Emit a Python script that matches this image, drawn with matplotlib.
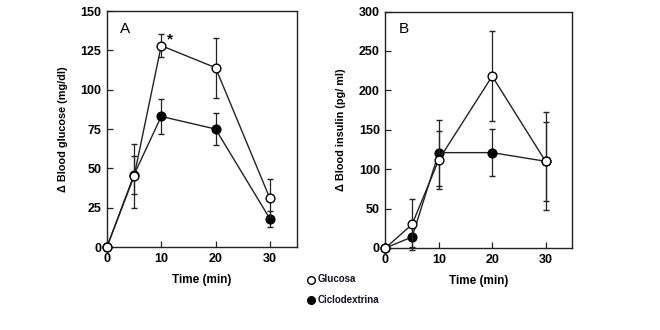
import matplotlib
matplotlib.use("Agg")
import matplotlib.pyplot as plt
from matplotlib.lines import Line2D

plt.rcParams['font.family'] = ['Liberation Sans', 'DejaVu Sans']

time = [0, 5, 10, 20, 30]

# Panel A: blood glucose (mg/dl)
glu_A = [0, 45, 128, 114, 31]
glu_A_err = [0, 20.5, 7.5, 19, 12]
cyc_A = [0, 46, 83, 75, 18]
cyc_A_err = [0, 12, 11, 10, 5]

# Panel B: blood insulin (pg/ml)
glu_B = [0, 30, 112, 218, 110]
glu_B_err = [0, 32, 37, 57, 62]
cyc_B = [0, 14, 121, 121, 110]
cyc_B_err = [0, 13, 42, 30, 50]

xticks = [0, 10, 20, 30]
yticks_A = [0, 25, 50, 75, 100, 125, 150]
yticks_B = [0, 50, 100, 150, 200, 250, 300]

series_names = ["Glucosa", "Ciclodextrina"]

LC = "#222222"
fig = plt.figure(figsize=(6.6, 3.3), dpi=100)
axA = fig.add_axes([0.162, 0.2515, 0.288, 0.715])
axB = fig.add_axes([0.584, 0.2485, 0.283, 0.7165])


def draw(ax, glu, gerr, cyc, cerr, yticks, ylabel, letter):
    ax.errorbar(time, cyc, yerr=cerr, color=LC, lw=1.0, elinewidth=0.9,
                capsize=2.3, capthick=0.9, marker='o', ms=6.3,
                mfc='black', mec='black', mew=1.0, zorder=3, clip_on=False)
    ax.errorbar(time, glu, yerr=gerr, color=LC, lw=1.0, elinewidth=0.9,
                capsize=2.3, capthick=0.9, marker='o', ms=6.3,
                mfc='white', mec='black', mew=1.0, zorder=4, clip_on=False)
    ax.set_xlim(0, 35)
    ax.set_ylim(yticks[0], yticks[-1])
    ax.set_xticks(xticks)
    ax.set_yticks(yticks)
    ax.tick_params(direction='in', length=4, width=0.9, colors=LC,
                   labelsize=9, pad=4)
    for lab in ax.get_xticklabels() + ax.get_yticklabels():
        lab.set_fontweight('bold')
        lab.set_color('black')
    for s in ax.spines.values():
        s.set_linewidth(1.0)
        s.set_color(LC)
    ax.set_xlabel("Time (min)", fontsize=8.5, fontweight='bold', labelpad=7)
    ax.set_ylabel(ylabel, fontsize=7.8, fontweight='bold', labelpad=9)
    ax.text(0.07, 0.955, letter, transform=ax.transAxes, fontsize=11,
            va='top', ha='left')


draw(axA, glu_A, glu_A_err, cyc_A, cyc_A_err, yticks_A,
     "Δ Blood glucose (mg/dl)", "A")
draw(axB, glu_B, glu_B_err, cyc_B, cyc_B_err, yticks_B,
     "Δ Blood insulin (pg/ ml)", "B")

axA.text(11.0, 127.5, "*", fontsize=11, fontweight='bold', ha='left', va='bottom')

# legend
fig.add_artist(Line2D([0.471], [1 - 279.5 / 330], marker='o', ms=5.5,
                      mfc='white', mec='black', mew=1.0, transform=fig.transFigure))
fig.add_artist(Line2D([0.471], [1 - 300 / 330], marker='o', ms=5.5,
                      mfc='black', mec='black', mew=1.0, transform=fig.transFigure))
fig.text(0.481, 1 - 279.5 / 330, series_names[0], fontsize=7, fontweight='bold',
         va='center', ha='left', color='#111122')
fig.text(0.481, 1 - 300 / 330, series_names[1], fontsize=7, fontweight='bold',
         va='center', ha='left', color='#111122')

fig.savefig("out.png", dpi=100)
